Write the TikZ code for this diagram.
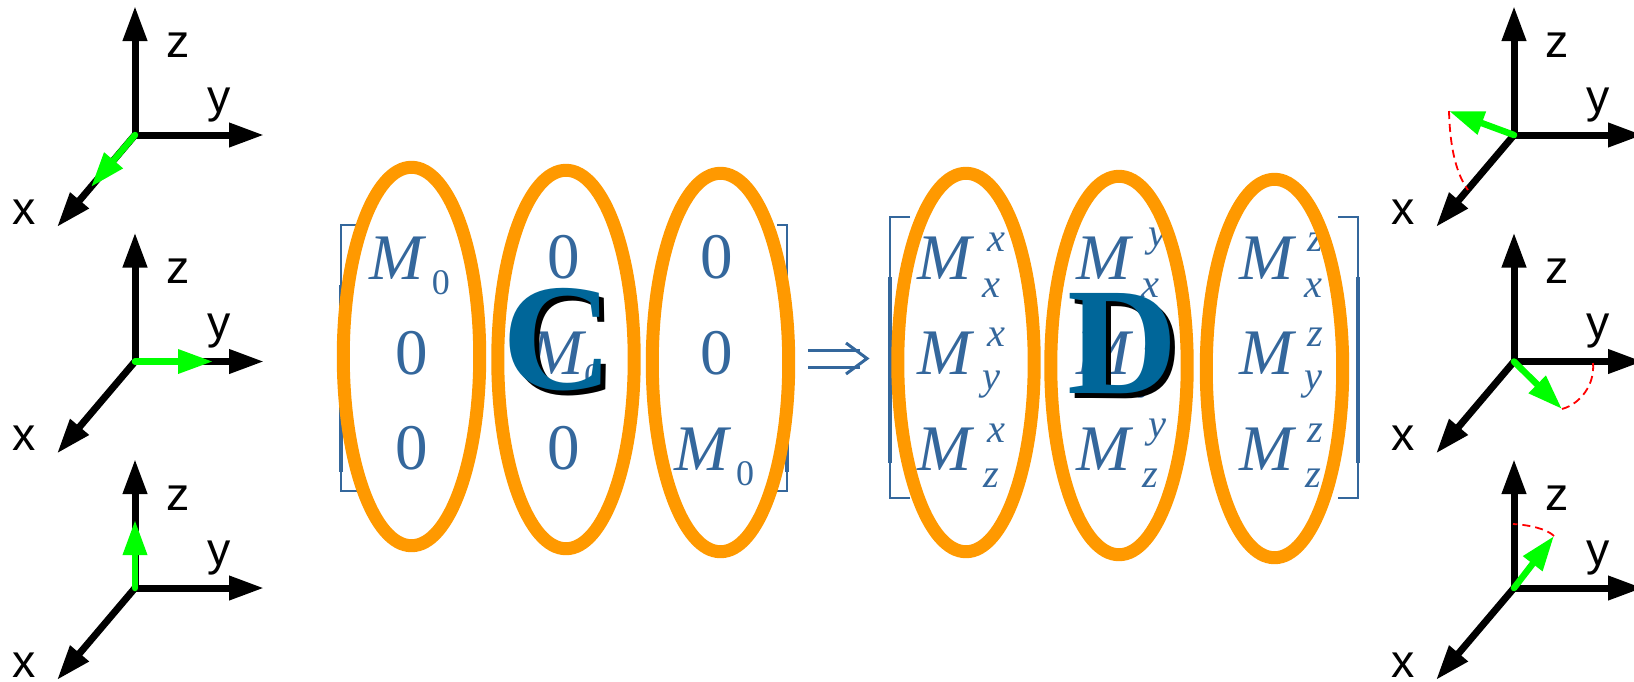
\documentclass[tikz,border=0pt]{standalone}
\usepackage{fontspec}
\setmainfont{Liberation Serif}
\setsansfont{Liberation Sans}
\usetikzlibrary{arrows.meta, shapes.geometric}
\definecolor{MatrixBlue}{RGB}{52, 103, 156}
\definecolor{LetterBlue}{RGB}{0, 102, 153}
\definecolor{RingOrange}{RGB}{255, 153, 0}
\definecolor{SpinGreen}{RGB}{0, 255, 0}

\begin{document}
\begin{tikzpicture}[
        x = 0.02cm,
        y = -0.02cm,
        axis/.style = {
            -{Triangle[length = 7mm, width = 4.6mm]},
            line width = 1.4mm,
            black
        },
        axislabel/.style = {
            anchor = base,
            inner sep = 0pt,
            font = \sffamily\fontsize{26.5}{26.5}\selectfont
        },
        spin/.style = {
            -{Triangle[length = 7mm, width = 4.6mm]},
            line width = 1.3mm,
            line cap = round,
            SpinGreen
        },
        swing/.style = {
            red,
            line width = 0.36mm,
            dash pattern = on 1.6mm off 1mm
        },
        bracketline/.style = {
            MatrixBlue,
            line width = 0.5mm
        },
        bracketmid/.style = {
            MatrixBlue,
            line width = 0.75mm
        },
        entry/.style = {
            inner sep = 0pt,
            text = MatrixBlue,
            font = \fontsize{37}{37}\selectfont
        },
        lowzero/.style = {
            inner sep = 0pt,
            text = MatrixBlue,
            font = \fontsize{20.5}{20.5}\selectfont
        },
        script/.style = {
            inner sep = 0pt,
            text = MatrixBlue,
            font = \fontsize{23}{23}\selectfont\itshape
        },
        bigletter/.style = {
            inner sep = 0pt,
            font = \fontsize{87}{87}\selectfont\bfseries
        },
        ring/.style = {
            ellipse,
            draw = RingOrange,
            line width = 2.6mm,
            inner sep = 0pt,
            minimum width = 2.73cm,
            minimum height = 7.57cm
        },
        impline/.style = {
            MatrixBlue,
            line width = 0.6mm
        }
    ]
        \useasboundingbox (0, 0) rectangle (1634, 681);

        % left and right columns of axes
        \foreach \ax/\ox/\oy in {la/135/135, lb/135/361.5, lc/135/588, ra/1514/135, rb/1514/361.5, rc/1514/588} {
            \coordinate (\ax o) at (\ox, \oy);
            \coordinate (\ax z) at (\ox, \oy - 129);
            \coordinate (\ax y) at (\ox + 129, \oy);
            \coordinate (\ax x) at (\ox - 78, \oy + 92);
            \draw[axis] (\ax o) -- (\ax z);
            \draw[axis] (\ax o) -- (\ax y);
            \draw[axis] (\ax o) -- (\ax x);
            \node[axislabel] (\ax zl) at (\ox + 43, \oy - 78) {z};
            \node[axislabel] (\ax yl) at (\ox + 84, \oy - 23) {y};
            \node[axislabel] (\ax xl) at (\ox - 111, \oy + 89) {x};
        }

        % green moments
        \coordinate (latip) at (91, 187);
        \coordinate (lbtip) at (213, 361.5);
        \coordinate (lctip) at (135, 520);
        \coordinate (ratip) at (1449, 111);
        \coordinate (rbtip) at (1562, 409);
        \coordinate (rctip) at (1554, 536);

        \draw[spin] (lao) -- (latip);
        \draw[spin] (lbo) -- (lbtip);
        \draw[spin] (lco) -- (lctip);
        \draw[spin] (rao) -- (ratip);
        \draw[spin] (rbo) -- (rbtip);
        \draw[spin] (rco) -- (rctip);

        % red swings
        \coordinate (raend) at (1468, 190);
        \coordinate (rbend) at (1593, 363);
        \coordinate (rcend) at (1513, 524);

        \draw[swing] (ratip) .. controls (1450, 150) and (1457, 175) .. (raend);
        \draw[swing] (rbtip) .. controls (1580, 404) and (1595, 385) .. (rbend);
        \draw[swing] (rctip) .. controls (1547, 529) and (1530, 525) .. (rcend);

        % brackets
        \draw[bracketline] (357, 225) -- (341, 225) -- (341, 491) -- (357, 491);
        \draw[bracketmid] (341, 285) -- (341, 472);
        \draw[bracketline] (777, 225) -- (787, 225) -- (787, 491) -- (777, 491);
        \draw[bracketmid] (787, 285) -- (787, 472);
        \draw[bracketline] (910, 217) -- (890, 217) -- (890, 498) -- (910, 498);
        \draw[bracketmid] (890, 277) -- (890, 463);
        \draw[bracketline] (1338, 217) -- (1358, 217) -- (1358, 498) -- (1338, 498);
        \draw[bracketmid] (1358, 277) -- (1358, 463);

        % diagonal matrix
        \node[entry] (caa) at (397, 258) {\itshape M};
        \node[lowzero] (caz) at (441, 283) {0};
        \node[entry] (cab) at (564, 257) {0};
        \node[entry] (cac) at (717, 257) {0};
        \node[entry] (cba) at (412, 353) {0};
        \node[entry] (cbb) at (557, 353) {\itshape M};
        \node[lowzero] (cbz) at (593, 377) {0};
        \node[entry] (cbc) at (717, 353) {0};
        \node[entry] (cca) at (412, 448) {0};
        \node[entry] (ccb) at (564, 448) {0};
        \node[entry] (ccc) at (702, 449) {\itshape M};
        \node[lowzero] (ccz) at (745, 474) {0};

        % full matrix
        \foreach \mx/\upp/\updx in {945/x/51, 1104/y/53, 1267/z/48} {
            \foreach \my/\low/\updy/\lowdy in {258/x/-16/30, 353/y/-16/32, 449/z/-16/29} {
                \node[entry] (m\upp\low) at (\mx, \my) {\itshape M};
                \node[script] (u\upp\low) at (\mx + \updx, \my + \updy) {\upp};
                \node[script] (d\upp\low) at (\mx + 46, \my + \lowdy) {\low};
            }
        }

        % implies sign
        \coordinate (impua) at (808, 350);
        \coordinate (impub) at (860, 350);
        \coordinate (impla) at (808, 367);
        \coordinate (implb) at (860, 367);
        \coordinate (imptop) at (846, 343);
        \coordinate (imptip) at (867, 358.5);
        \coordinate (impbot) at (846, 374);
        \draw[impline] (impua) -- (impub);
        \draw[impline] (impla) -- (implb);
        \draw[impline] (imptop) -- (imptip) -- (impbot);

        % letters
        \node[bigletter, text = black] (cshade) at (563, 345) {C};
        \node[bigletter, text = LetterBlue] (cletter) at (558, 340) {C};
        \node[bigletter, text = black] (dshade) at (1128, 349) {D};
        \node[bigletter, text = LetterBlue] (dletter) at (1123, 344) {D};

        % orange rings
        \node[ring] (ringa) at (411.5, 356.5) {};
        \node[ring] (ringb) at (566, 359.5) {};
        \node[ring] (ringc) at (720.5, 362.5) {};
        \node[ring] (ringd) at (966, 362.5) {};
        \node[ring] (ringe) at (1119, 365.5) {};
        \node[ring] (ringf) at (1274.5, 368.5) {};
    \end{tikzpicture}
\end{document}
